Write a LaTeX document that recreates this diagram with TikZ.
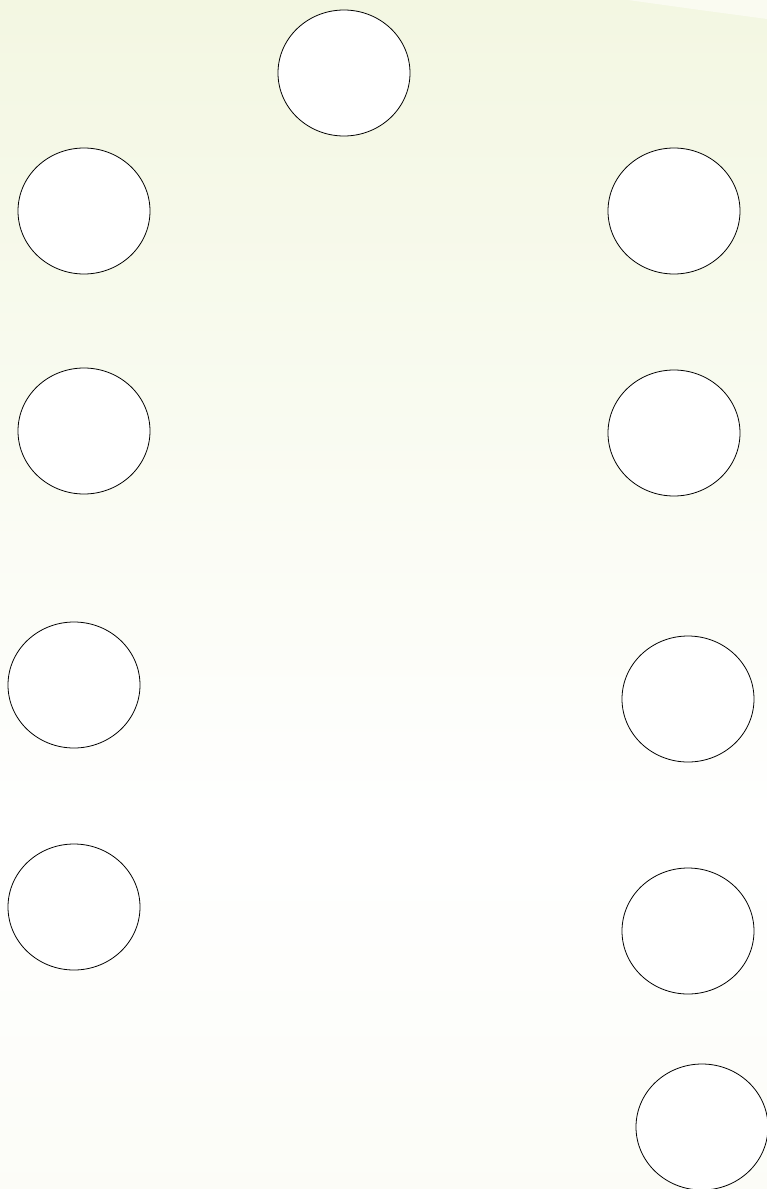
\documentclass[tikz,border=0pt]{standalone}
\usepackage{xcolor}
\usepackage{tikz}
\usetikzlibrary{shapes.geometric}

\definecolor{bgtop}{HTML}{EEF4D8}
\definecolor{bgupper}{HTML}{F3F7E2}
\definecolor{bgbottom}{HTML}{F6F8EA}
\definecolor{wedge}{HTML}{FAFBF1}
\pgfdeclareverticalshading{pagebg}{100bp}{color(0bp)=(bgbottom); color(40bp)=(white); color(75bp)=(bgupper); color(100bp)=(bgtop)}

\begin{document}
\begin{tikzpicture}[
  x=1pt, y=-1pt,
  blob/.style={ellipse, draw, line width=0.8pt, fill=white, minimum width=132pt, minimum height=126pt, inner sep=0pt}
]
  % page and background
  \clip (0,0) rectangle (767,1189);
  \shade[shading=pagebg] (0,0) rectangle (767,1189);
  \fill[wedge] (628,0) -- (767,0) -- (767,19) -- (700,10) -- cycle;

  % ellipses
  \node[blob] (top) at (344,73) {};
  \node[blob] (l1) at (84,211) {};
  \node[blob] (r1) at (674,211) {};
  \node[blob] (l2) at (84,431) {};
  \node[blob] (r2) at (674,433) {};
  \node[blob] (l3) at (74,685) {};
  \node[blob] (r3) at (688,699) {};
  \node[blob] (l4) at (74,907) {};
  \node[blob] (r4) at (688,931) {};
  \node[blob] (r5) at (702,1127) {};
\end{tikzpicture}
\end{document}
